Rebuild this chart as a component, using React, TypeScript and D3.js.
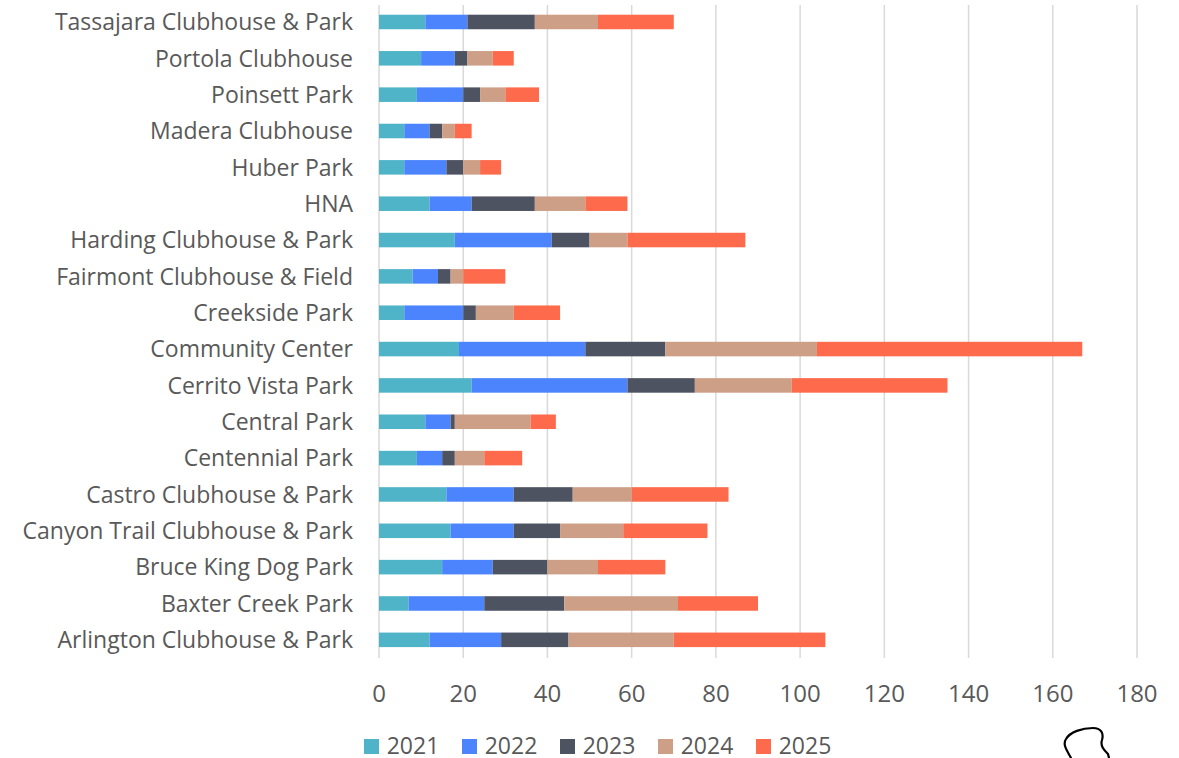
import React from 'react';
import * as d3 from 'd3';

// categories, top to bottom as drawn
const parks = [
  'Tassajara Clubhouse & Park',
  'Portola Clubhouse',
  'Poinsett Park',
  'Madera Clubhouse',
  'Huber Park',
  'HNA',
  'Harding Clubhouse & Park',
  'Fairmont Clubhouse & Field',
  'Creekside Park',
  'Community Center',
  'Cerrito Vista Park',
  'Central Park',
  'Centennial Park',
  'Castro Clubhouse & Park',
  'Canyon Trail Clubhouse & Park',
  'Bruce King Dog Park',
  'Baxter Creek Park',
  'Arlington Clubhouse & Park',
];

const years = ['2021', '2022', '2023', '2024', '2025'];

const v2021 = [11, 10, 9, 6, 6, 12, 18, 8, 6, 19, 22, 11, 9, 16, 17, 15, 7, 12];
const v2022 = [10, 8, 11, 6, 10, 10, 23, 6, 14, 30, 37, 6, 6, 16, 15, 12, 18, 17];
const v2023 = [16, 3, 4, 3, 4, 15, 9, 3, 3, 19, 16, 1, 3, 14, 11, 13, 19, 16];
const v2024 = [15, 6, 6, 3, 4, 12, 9, 3, 9, 36, 23, 18, 7, 14, 15, 12, 27, 25];
const v2025 = [18, 5, 8, 4, 5, 10, 28, 10, 11, 63, 37, 6, 9, 23, 20, 16, 19, 36];

const xTicks = [0, 20, 40, 60, 80, 100, 120, 140, 160, 180];

const colors = ['#50B4C8', '#4B84FD', '#4D5361', '#CE9F87', '#FD6B4C'];

const W = 1179;
const H = 758;
const font = "'Open Sans', sans-serif";
const textColor = '#595959';

export default function App() {
  const series = [v2021, v2022, v2023, v2024, v2025];
  const rows = parks.map((p, i) => {
    const r: Record<string, number | string> = { park: p };
    years.forEach((yr, k) => (r[yr] = series[k][i]));
    return r;
  });
  const stacked = d3.stack<any>().keys(years)(rows);

  const x = d3.scaleLinear().domain([0, 180]).range([379, 1137]);
  const y = d3
    .scaleBand<string>()
    .domain(parks)
    .range([3.8, 658])
    .paddingInner(0.6)
    .paddingOuter(0.3);

  return (
    <svg
      width={W}
      height={H}
      style={{ position: 'absolute', left: 0, top: 0, background: '#fff' }}
    >
      <g>
        {xTicks.map((t) => (
          <line
            key={t}
            x1={x(t)}
            x2={x(t)}
            y1={5}
            y2={658}
            stroke="#D9D9D9"
            strokeWidth={1.5}
          />
        ))}
      </g>
      <g>
        {stacked.map((s, k) => (
          <g key={s.key} fill={colors[k]}>
            {s.map((d, i) => (
              <rect
                key={i}
                x={x(d[0])}
                width={x(d[1]) - x(d[0])}
                y={y(parks[i])}
                height={y.bandwidth()}
              />
            ))}
          </g>
        ))}
      </g>
      <g fontFamily={font} fontSize={23} fill={textColor} textAnchor="end">
        {parks.map((p) => (
          <text key={p} x={353} y={(y(p) as number) + y.bandwidth() / 2} dy="0.36em">
            {p}
          </text>
        ))}
      </g>
      <g fontFamily={font} fontSize={24} fill={textColor} textAnchor="middle">
        {xTicks.map((t) => (
          <text key={t} x={x(t)} y={702}>
            {t}
          </text>
        ))}
      </g>
      <g fontFamily={font} fontSize={23} fill={textColor}>
        {years.map((yr, k) => (
          <g key={yr} transform={`translate(${364 + k * 98},0)`}>
            <rect x={0} y={739} width={15} height={15} fill={colors[k]} />
            <text x={22.7} y={754}>
              {yr}
            </text>
          </g>
        ))}
      </g>
      <path
        d="M1071,758 C1068,752 1062,745 1066,739 C1070,732 1082,728 1093,728 C1101,728 1104,733 1102,740 C1100,746 1104,750 1108,754 L1109,758"
        fill="none"
        stroke="#000"
        strokeWidth={2.2}
        strokeLinecap="round"
      />
    </svg>
  );
}
